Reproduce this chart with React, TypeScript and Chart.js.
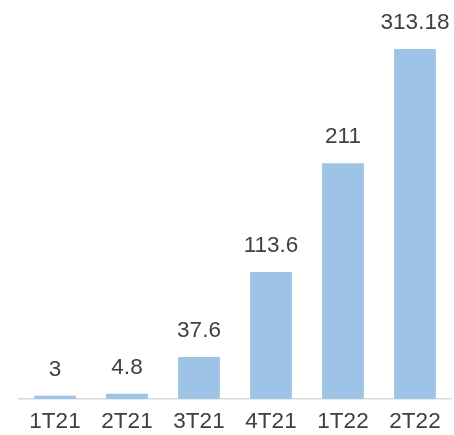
import React, { useEffect, useRef } from "react";
import { Chart, registerables } from "chart.js";

Chart.register(...registerables);

const categories = ["1T21", "2T21", "3T21", "4T21", "1T22", "2T22"];
const values = [3, 4.8, 37.6, 113.6, 211, 313.18];
const valueLabels = ["3", "4.8", "37.6", "113.6", "211", "313.18"];

const FONT = "'Liberation Sans', Arial, sans-serif";

const dataLabelPlugin = {
  id: "dataLabels",
  afterDatasetsDraw(chart: any) {
    const { ctx } = chart;
    const meta = chart.getDatasetMeta(0);
    ctx.save();
    ctx.font = `22.5px ${FONT}`;
    ctx.fillStyle = "#404040";
    ctx.textAlign = "center";
    ctx.textBaseline = "middle";
    meta.data.forEach((bar: any, i: number) => {
      ctx.fillText(valueLabels[i], bar.x, bar.y - 26);
    });
    ctx.restore();
  },
};

export default function App() {
  const ref = useRef<HTMLCanvasElement>(null);
  useEffect(() => {
    if (!ref.current) return;
    const chart = new Chart(ref.current, {
      type: "bar",
      data: {
        labels: categories,
        datasets: [
          {
            data: values,
            backgroundColor: "#9DC3E6",
            barPercentage: 0.58,
            categoryPercentage: 1,
          },
        ],
      },
      options: {
        animation: false,
        responsive: false,
        layout: { padding: { left: 19, right: 3, top: 0, bottom: -9 } },
        plugins: { legend: { display: false }, tooltip: { enabled: false } },
        scales: {
          x: {
            grid: { display: false, drawTicks: false },
            border: { display: true, color: "#D9D9D9", width: 1.5 },
            ticks: {
              color: "#404040",
              font: { family: FONT, size: 22.5 },
              padding: 9,
              maxRotation: 0,
            },
          },
          y: {
            display: false,
            min: 0,
            max: 357,
          },
        },
      },
      plugins: [dataLabelPlugin],
    });
    return () => chart.destroy();
  }, []);
  return (
    <div style={{ position: "fixed", left: 0, top: 0, width: 454, height: 435, background: "#fff" }}>
      <canvas ref={ref} width={454} height={435} />
    </div>
  );
}
